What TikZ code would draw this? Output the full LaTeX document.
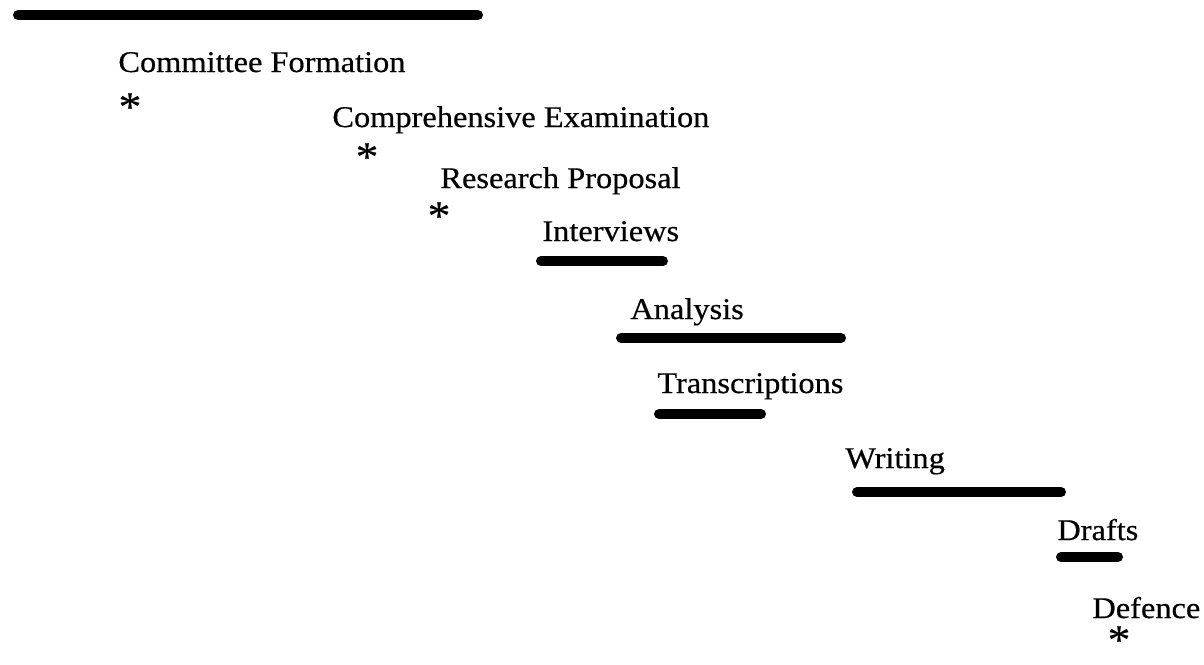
\documentclass[tikz,border=0pt]{standalone}
\usepackage{fontspec}
\setmainfont[FakeStretch=1.08, FakeBold=0.5]{Liberation Serif}
\tikzset{
  task/.style = {anchor = base west, inner sep = 0pt, font = \fontsize{15}{18}\selectfont},
  milestone/.style = {inner sep = 0pt, font = \fontsize{21}{23}\selectfont},
  bar/.style = {line width = 5pt, line cap = round}
}
\begin{document}
\begin{tikzpicture}[x = 0.5pt, y = -0.5pt]
        \useasboundingbox (0, 0) rectangle (1204, 664);
        \draw[bar] (18, 15) -- (478, 15);
        \node[task] (committee) at (118, 72) {Committee Formation};
        \node[milestone] (star1) at (130, 107) {*};
        \node[task] (exam) at (332, 127) {Comprehensive Examination};
        \node[milestone] (star2) at (367, 157) {*};
        \node[task] (proposal) at (440, 188) {Research Proposal};
        \node[milestone] (star3) at (439, 216) {*};
        \node[task] (interviews) at (542, 241) {Interviews};
        \draw[bar] (541, 261) -- (663, 261);
        \node[task] (analysis) at (630, 319) {Analysis};
        \draw[bar] (621, 338) -- (841, 338);
        \node[task] (transcripts) at (657, 393) {Transcriptions};
        \draw[bar] (659, 414) -- (761, 414);
        \node[task] (writing) at (845, 468) {Writing};
        \draw[bar] (857, 492) -- (1061, 492);
        \node[task] (drafts) at (1057, 540) {Drafts};
        \draw[bar] (1061, 557) -- (1118, 557);
        \node[task] (defence) at (1092, 618) {Defence};
        \node[milestone] (star4) at (1119, 640) {*};
    \end{tikzpicture}
\end{document}
